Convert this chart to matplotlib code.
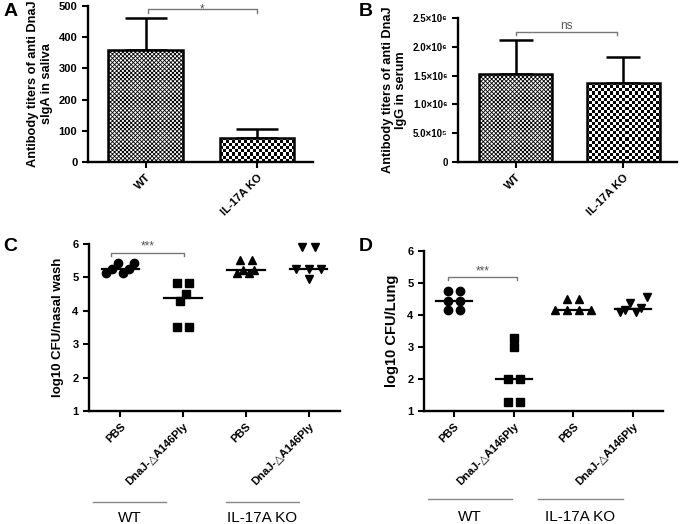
import matplotlib
matplotlib.use("Agg")
import matplotlib.pyplot as plt
import numpy as np

plt.rcParams['font.family'] = ['Liberation Sans', 'DejaVu Sans']
plt.rcParams['hatch.linewidth'] = 0.6

# A / B: antibody titers
bar_groups = ["WT", "IL-17A KO"]
siga_mean = [360, 77]
siga_top = [460, 107]          # mean + SD
igg_mean = [1.52e6, 1.37e6]
igg_top = [2.12e6, 1.82e6]
igg_ticks = [0, 5e5, 1e6, 1.5e6, 2e6, 2.5e6]
igg_ticklabels = ["0", "5.0×10⁵", "1.0×10⁶", "1.5×10⁶", "2.0×10⁶", "2.5×10⁶"]

# C / D: bacterial load, log10 CFU
cfu_groups = ["PBS", "DnaJ-△A146Ply", "PBS", "DnaJ-△A146Ply"]
mouse_groups = ["WT", "IL-17A KO"]
nasal_wt_pbs = [5.13, 5.13, 5.23, 5.23, 5.43, 5.43]
nasal_wt_dnaj = [3.52, 3.52, 4.28, 4.48, 4.83, 4.83]
nasal_ko_pbs = [5.13, 5.13, 5.22, 5.22, 5.51, 5.51]
nasal_ko_dnaj = [4.93, 5.24, 5.24, 5.24, 5.9, 5.9]
lung_wt_pbs = [4.16, 4.16, 4.45, 4.45, 4.76, 4.76]
lung_wt_dnaj = [1.29, 1.29, 2.0, 2.0, 2.99, 3.29]
lung_ko_pbs = [4.16, 4.16, 4.16, 4.16, 4.49, 4.49]
lung_ko_dnaj = [4.08, 4.08, 4.15, 4.22, 4.38, 4.55]
markers = ['o', 's', '^', 'v']


def spread(vals, step=0.2, tol=0.25):
    # column scatter: values close together are put side by side
    vals = np.asarray(vals, dtype=float)
    order = np.argsort(vals)
    offs = np.zeros(len(vals))
    bands = [[order[0]]]
    for i in order[1:]:
        if vals[i] - vals[bands[-1][-1]] < tol:
            bands[-1].append(i)
        else:
            bands.append([i])
    for b in bands:
        n = len(b)
        same = np.allclose(vals[b], vals[b[0]])
        h = step if same else step * 0.45
        half = (n + 1) // 2
        for k, i in enumerate(b):
            j = k if same else k // 2 + (k % 2) * half
            offs[i] = (j - (n - 1) / 2) * h
    return offs


def style_axes(ax, size=8):
    for s in ['top', 'right']:
        ax.spines[s].set_visible(False)
    for s in ['left', 'bottom']:
        ax.spines[s].set_linewidth(1.7)
    ax.tick_params(direction='out', length=4, width=1.5, labelsize=size)
    for lab in ax.get_yticklabels() + ax.get_xticklabels():
        lab.set_fontweight('bold')


def sig_bracket(ax, x0, x1, y, d, txt, va='bottom'):
    ax.plot([x0, x0, x1, x1], [y - d, y, y, y - d], color='#777777', lw=1, clip_on=False)
    ax.text((x0 + x1) / 2, y, txt, ha='center', va=va, color='#555555', fontsize=8.5)


def checker(ax, patch, cell=3.0):
    bb = ax.get_window_extent()
    nc, nr = int(bb.width / cell), int(bb.height / cell)
    img = np.add.outer(np.arange(nr), np.arange(nc)) % 2
    xl, yl = ax.get_xlim(), ax.get_ylim()
    im = ax.imshow(img, cmap='gray', extent=(xl[0], xl[1], yl[0], yl[1]), aspect='auto',
                   interpolation='nearest', zorder=1.5)
    im.set_clip_path(patch)
    ax.set_xlim(xl)
    ax.set_ylim(yl)


def bar_panel(ax, means, tops, width, cap):
    x = np.arange(len(means))
    err = np.array(tops) - np.array(means)
    ax.errorbar(x, means, yerr=[np.zeros(len(x)), err], fmt='none', ecolor='k',
                elinewidth=1.8, capsize=cap, capthick=1.8, zorder=1)
    bars = ax.bar(x, means, width, color='white', edgecolor='k', linewidth=1.8,
                  hatch='xxxxxxxx', zorder=2)
    bars[1].set_hatch(None)
    bars[1].set_facecolor('none')
    ax.set_xticks(x)
    ax.set_xticklabels(bar_groups, rotation=45, ha='right', rotation_mode='anchor')
    return bars


fig = plt.figure(figsize=(6.8, 5.24), dpi=100)

# A
axA = fig.add_axes([0.129, 0.691, 0.331, 0.2977])
axA.set_xlim(-0.52, 1.5)
axA.set_ylim(0, 500)
barsA = bar_panel(axA, siga_mean, siga_top, 0.67, 15)
axA.set_yticks(np.arange(0, 501, 100))
style_axes(axA)
checker(axA, barsA[1])
axA.set_ylabel("Antibody titers of anti DnaJ\nslgA in saliva", fontsize=9.2,
               fontweight='bold', labelpad=4)
sig_bracket(axA, 0.02, 1.0, 490, 12, "*", va='center')

# B
axB = fig.add_axes([0.6735, 0.691, 0.322, 0.2748])
axB.set_xlim(-0.54, 1.5)
axB.set_ylim(0, 2.5e6)
barsB = bar_panel(axB, igg_mean, igg_top, 0.68, 12)
axB.set_yticks(igg_ticks)
axB.set_yticklabels(igg_ticklabels)
style_axes(axB)
axB.tick_params(axis='y', labelsize=7)
checker(axB, barsB[1])
axB.set_ylabel("Antibody titers of anti DnaJ\nIgG in serum", fontsize=9.2,
               fontweight='bold', labelpad=4)
sig_bracket(axB, 0.0, 0.94, 2.26e6, 0.06e6, "ns")


def scatter_panel(ax, sets, ylabel, lsize, sig, grp_x, line_half, line_y, text_y):
    for i, vals in enumerate(sets):
        xs = i + spread(vals)
        ax.plot(xs, vals, linestyle='none', marker=markers[i], color='k',
                markersize=6, clip_on=False)
        ax.plot([i - 0.3, i + 0.3], [np.median(vals)] * 2, color='k', lw=1.6)
    ax.set_xlim(-0.5, 3.5)
    ax.set_ylim(1, 6)
    ax.set_yticks(range(1, 7))
    ax.set_xticks(range(4))
    ax.set_xticklabels(cfu_groups, rotation=45, ha='right', rotation_mode='anchor')
    style_axes(ax)
    ax.set_ylabel(ylabel, fontsize=lsize, fontweight='bold', labelpad=6)
    sig_bracket(ax, *sig)
    tr = ax.get_xaxis_transform()
    for gx, name in zip(grp_x, mouse_groups):
        ax.plot([gx - line_half, gx + line_half], [line_y, line_y], color='#888888', lw=1,
                transform=tr, clip_on=False)
        ax.text(gx, text_y, name, transform=tr, ha='center', va='baseline', fontsize=11)


# C
axC = fig.add_axes([0.1309, 0.2156, 0.369, 0.3197])
scatter_panel(axC, [nasal_wt_pbs, nasal_wt_dnaj, nasal_ko_pbs, nasal_ko_dnaj],
              "log10 CFU/nasal wash", 9.5, (-0.15, 1.02, 5.73, 0.1, "***"),
              [0.15, 2.26], 0.58, -0.543, -0.663)

# D
axD = fig.add_axes([0.6235, 0.2156, 0.3515, 0.3053])
scatter_panel(axD, [lung_wt_pbs, lung_wt_dnaj, lung_ko_pbs, lung_ko_dnaj],
              "log10 CFU/Lung", 10.5, (-0.1, 1.05, 5.18, 0.1, "***"),
              [0.27, 2.12], 0.71, -0.55, -0.688)

for letter, x, y in [("A", 0.005, 0.995), ("B", 0.528, 0.995),
                     ("C", 0.005, 0.545), ("D", 0.528, 0.545)]:
    fig.text(x, y, letter, fontsize=14, fontweight='bold', ha='left', va='top')

fig.savefig("out.png", dpi=100)
